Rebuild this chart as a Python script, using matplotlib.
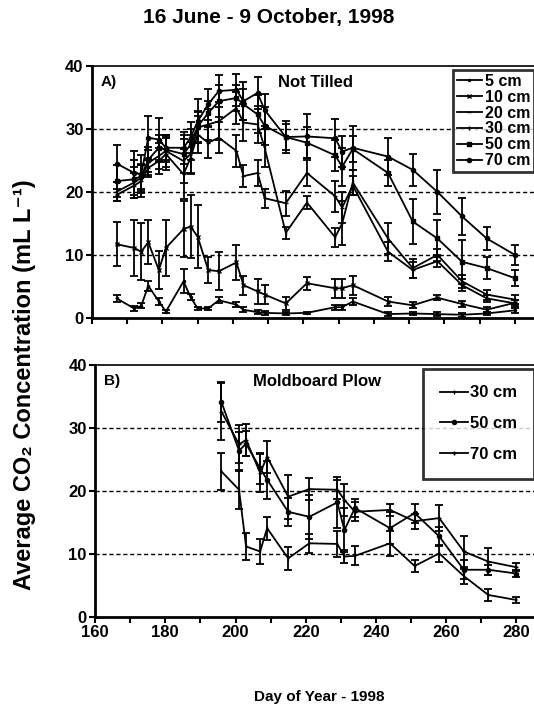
import matplotlib
matplotlib.use('Agg')
import matplotlib.pyplot as plt
import numpy as np

plt.rcParams['font.family'] = ['Liberation Sans', 'DejaVu Sans']
plt.rcParams['font.weight'] = 'bold'

# sampling days, not tilled
days_nt = [167, 172, 174, 176, 179, 181, 186, 188, 190, 193, 196, 201, 203,
           207, 209, 215, 221, 229, 231, 234, 244, 251, 258, 265, 272, 280]

nt_5 = [3.1, 1.5, 1.9, 5.1, 2.6, 1.0, 5.8, 3.3, 1.5, 1.5, 2.8, 2.1, 1.3,
        0.9, 0.8, 0.7, 0.8, 1.7, 1.7, 2.6, 0.6, 0.7, 0.6, 0.5, 0.7, 1.2]
nt_5_err = [0.5, 0.4, 0.4, 0.8, 0.5, 0.3, 1.9, 0.5, 0.3, 0.3, 0.5, 0.4, 0.4,
            0.3, 0.3, 0.3, 0.2, 0.4, 0.4, 0.5, 0.3, 0.3, 0.3, 0.3, 0.3, 0.4]
nt_10 = [11.7, 11.1, 10.5, 12.0, 7.6, 11.1, 14.1, 14.5, 12.9, 7.6, 7.4, 8.8, 5.2,
         4.2, 3.7, 2.3, 5.5, 4.7, 4.7, 5.2, 2.6, 2.0, 3.2, 2.2, 1.3, 2.4]
nt_10_err = [3.5, 4.5, 4.5, 3.5, 3.0, 4.5, 4.5, 5.0, 5.0, 2.0, 3.0, 2.8, 1.5,
             2.0, 1.5, 1.0, 1.0, 1.5, 1.5, 1.5, 0.7, 0.5, 0.4, 0.5, 0.4, 0.4]
nt_20 = [19.5, 21.0, 21.7, 23.8, 24.9, 26.0, 22.8, 25.4, 29.1, 27.8, 28.6, 26.5, 22.5,
         23.0, 19.0, 18.2, 23.0, 19.3, 17.5, 21.0, 10.5, 7.6, 9.0, 5.2, 3.1, 2.3]
nt_20_err = [1.0, 2.0, 2.5, 1.5, 2.0, 2.5, 4.0, 2.5, 3.0, 2.5, 2.5, 2.5, 1.8,
             2.0, 1.5, 2.0, 2.0, 2.5, 2.5, 1.5, 1.5, 1.2, 1.0, 1.0, 0.6, 0.5]
nt_30 = [20.0, 21.5, 22.2, 24.6, 25.7, 26.5, 24.9, 26.0, 30.2, 30.7, 31.2, 33.3, 31.0,
         30.7, 27.0, 13.5, 18.3, 12.8, 15.0, 21.5, 12.6, 7.9, 10.0, 5.8, 3.7, 2.9]
nt_30_err = [1.5, 2.5, 2.0, 2.0, 2.0, 2.5, 3.5, 3.0, 2.5, 2.5, 3.0, 2.5, 3.0,
             3.0, 3.0, 1.0, 1.0, 1.5, 3.5, 2.0, 2.5, 1.5, 1.0, 1.0, 0.8, 0.7]
nt_50 = [21.7, 22.0, 22.5, 25.1, 27.0, 26.7, 26.0, 27.5, 30.4, 32.5, 34.4, 34.9, 33.9,
         32.3, 30.5, 28.7, 27.8, 25.8, 24.0, 26.8, 23.0, 15.3, 12.6, 8.9, 7.9, 6.3]
nt_50_err = [2.5, 3.0, 2.0, 2.0, 2.0, 2.0, 3.0, 2.5, 2.5, 2.0, 2.5, 2.0, 2.5,
             3.0, 3.0, 2.5, 2.5, 2.5, 3.0, 2.0, 2.0, 3.5, 3.0, 3.5, 1.8, 1.3]
nt_70 = [24.5, 23.0, 22.8, 28.6, 28.3, 27.0, 27.0, 28.6, 31.2, 33.9, 36.0, 36.2, 34.4,
         35.7, 33.0, 28.7, 28.8, 28.5, 26.4, 27.0, 25.6, 23.5, 20.0, 16.1, 12.6, 10.0]
nt_70_err = [3.0, 3.5, 3.0, 3.5, 3.5, 2.0, 2.5, 2.5, 3.5, 2.5, 2.5, 2.5, 3.0,
             2.5, 2.5, 2.0, 3.5, 3.0, 2.5, 3.5, 3.0, 2.5, 3.5, 3.0, 1.8, 1.6]

# sampling days, moldboard plow
days_mp = [196, 201, 203, 207, 209, 215, 221, 229, 231, 234, 244, 251, 258, 265, 272, 280]
mp_30 = [23.1, 20.2, 11.2, 10.4, 14.1, 9.3, 11.7, 11.6, 9.6, 9.7, 11.7, 8.1, 10.1, 6.5, 3.5, 2.7]
mp_30_err = [3.0, 3.0, 2.2, 2.0, 1.8, 1.8, 1.5, 2.0, 1.0, 1.5, 2.0, 1.0, 1.3, 1.2, 1.0, 0.5]
mp_50 = [34.1, 26.4, 27.5, 23.6, 21.8, 16.7, 15.9, 18.2, 13.8, 17.3, 14.1, 16.5, 12.8, 7.5, 7.5, 6.9]
mp_50_err = [3.2, 3.0, 2.0, 2.5, 3.0, 2.2, 3.5, 4.0, 3.5, 1.5, 2.5, 1.5, 1.5, 1.5, 0.8, 0.6]
mp_70 = [32.6, 27.4, 28.1, 22.9, 25.4, 19.1, 20.3, 20.2, 18.6, 16.7, 17.0, 15.2, 15.7, 10.4, 8.8, 7.9]
mp_70_err = [4.5, 3.0, 2.5, 3.0, 2.5, 3.5, 1.8, 1.5, 2.5, 1.5, 1.0, 1.2, 2.0, 2.5, 2.2, 0.6]

nt_series = [('5 cm', nt_5, nt_5_err, '.'),
             ('10 cm', nt_10, nt_10_err, 'x'),
             ('20 cm', nt_20, nt_20_err, '_'),
             ('30 cm', nt_30, nt_30_err, '|'),
             ('50 cm', nt_50, nt_50_err, 's'),
             ('70 cm', nt_70, nt_70_err, 'o')]
mp_series = [('30 cm', mp_30, mp_30_err, '|'),
             ('50 cm', mp_50, mp_50_err, 'o'),
             ('70 cm', mp_70, mp_70_err, '+')]

fig = plt.figure(figsize=(5.34, 7.08), dpi=100)
ax1 = fig.add_axes([0.172, 0.551, 0.828, 0.356])
ax2 = fig.add_axes([0.178, 0.1285, 0.822, 0.356])


def style_axis(ax, xmax):
    ax.set_xlim(160, xmax)
    ax.set_ylim(0, 40)
    ax.set_yticks([0, 10, 20, 30, 40])
    ax.set_xticks(np.arange(160, 290, 10))
    for y in [10, 20, 30]:
        ax.axhline(y, color='black', lw=1.0, ls=(0, (3, 2)), zorder=0)
    ax.spines['right'].set_visible(False)
    ax.spines['top'].set_linewidth(1.2)
    ax.spines['left'].set_linewidth(2.0)
    ax.spines['bottom'].set_linewidth(2.0)
    ax.tick_params(axis='both', direction='out', length=4, width=1.5,
                   labelsize=12, pad=2)
    for lab in ax.get_yticklabels() + ax.get_xticklabels():
        lab.set_fontweight('bold')


def draw(ax, days, series):
    for name, vals, errs, mk in series:
        ax.errorbar(days, vals, yerr=errs, color='black', lw=1.3,
                    elinewidth=1.3, capsize=3, capthick=1.3,
                    marker=mk, ms=3, label=name)


def add_legend(ax, size, spacing, pad, hlen):
    h, l = ax.get_legend_handles_labels()
    h = [x[0] for x in h]
    leg = ax.legend(h, l, loc='upper right', bbox_to_anchor=(1.0, 0.985),
                    frameon=True, fancybox=False, edgecolor='black',
                    prop={'weight': 'bold', 'size': size}, handlelength=hlen,
                    handletextpad=0.15, labelspacing=spacing, borderpad=pad,
                    borderaxespad=0.0)
    leg.get_frame().set_linewidth(2.0)
    return leg


draw(ax1, days_nt, nt_series)
style_axis(ax1, 285.4)
ax1.set_xticklabels([])
ax1.text(0.02, 0.965, 'A)', transform=ax1.transAxes, fontsize=11,
         fontweight='bold', va='top')
ax1.text(0.505, 0.965, 'Not Tilled', transform=ax1.transAxes, fontsize=12,
         fontweight='bold', va='top', ha='center')
add_legend(ax1, 11.5, 0.06, 0.25, 1.6)

draw(ax2, days_mp, mp_series)
style_axis(ax2, 285)
ax2.set_xticklabels(['160', '', '180', '', '200', '', '220', '', '240', '',
                     '260', '', '280'])
ax2.text(0.02, 0.965, 'B)', transform=ax2.transAxes, fontsize=11,
         fontweight='bold', va='top')
ax2.text(0.506, 0.965, 'Moldboard Plow', transform=ax2.transAxes, fontsize=12,
         fontweight='bold', va='top', ha='center')
add_legend(ax2, 12, 0.95, 1.0, 1.7)

fig.text(0.504, 0.975, '16 June - 9 October, 1998', ha='center', va='center',
         fontsize=15, fontweight='bold')
fig.text(0.597, 0.016, 'Day of Year - 1998', ha='center', va='center',
         fontsize=11, fontweight='bold')
fig.text(0.045, 0.456, 'Average CO\u2082 Concentration (mL L\u207b\u00b9)',
         rotation=90, ha='center', va='center', fontsize=17, fontweight='bold',
         family=['Liberation Sans', 'DejaVu Sans'])

fig.savefig('out.png', dpi=100)
